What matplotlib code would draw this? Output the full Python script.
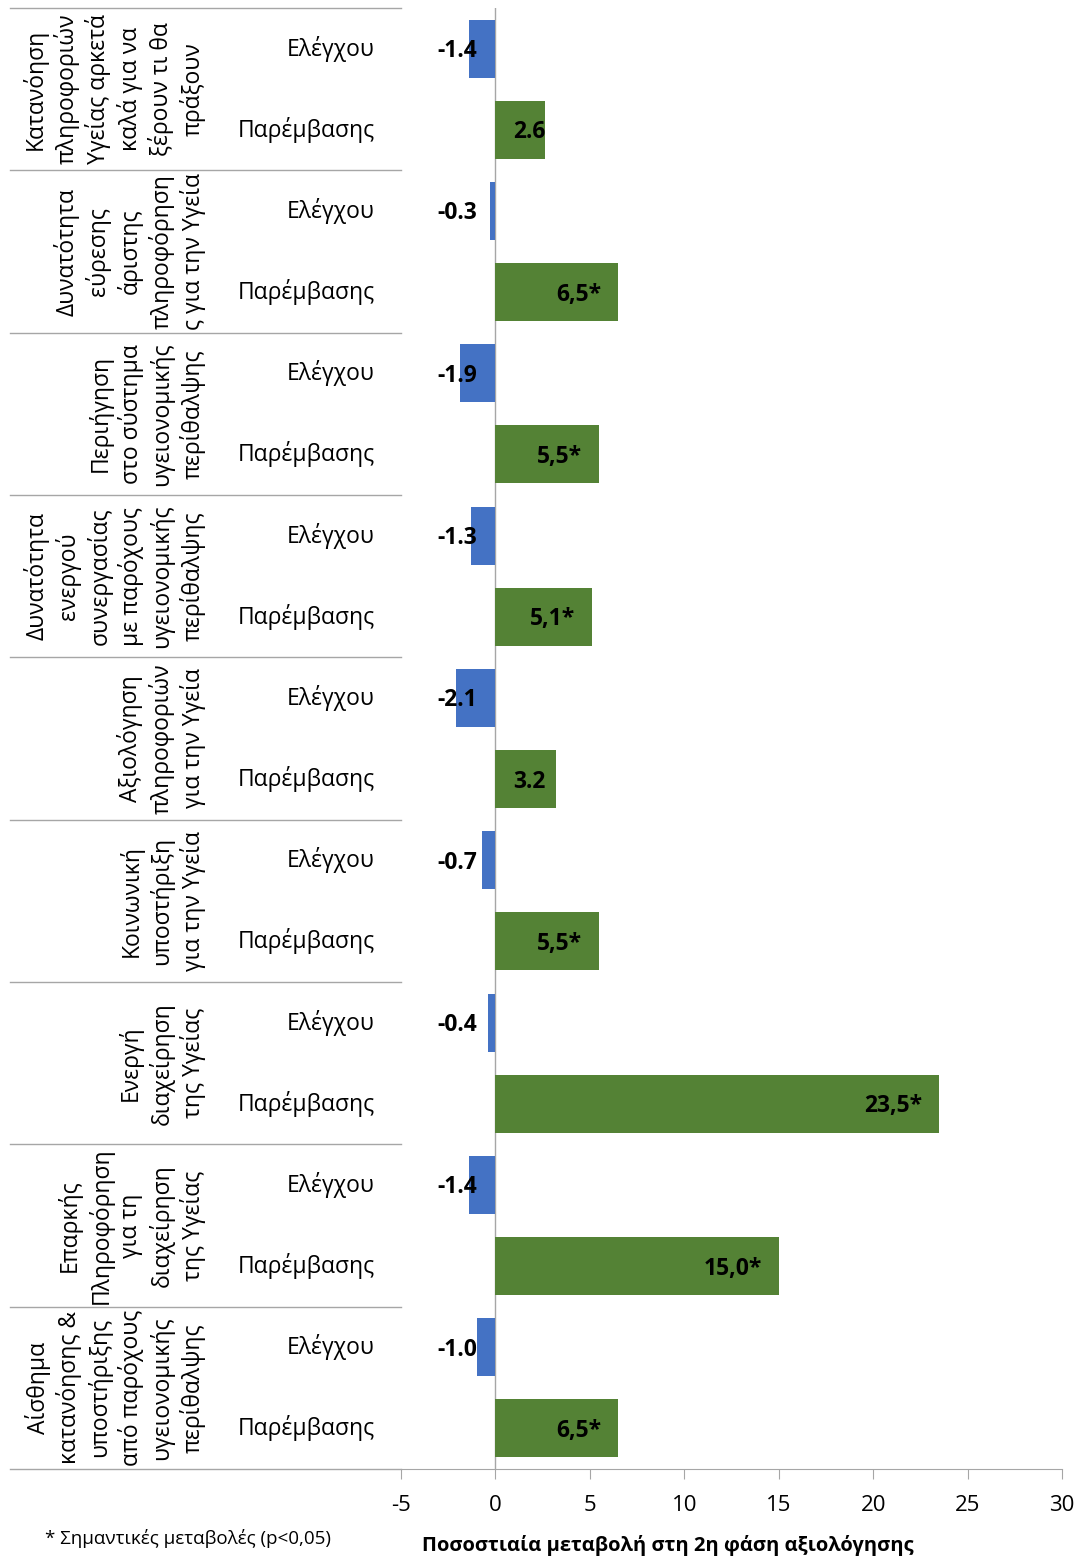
import matplotlib.pyplot as plt
import matplotlib.transforms as mtransforms

plt.rcParams['font.family'] = ['Open Sans', 'DejaVu Sans']

# Categories (top to bottom), subgroups and values
categories = [
    "Κατανόηση\nπληροφοριών\nΥγείας αρκετά\nκαλά για να\nξέρουν τι θα\nπράξουν",
    "Δυνατότητα\nεύρεσης\nάριστης\nπληροφόρηση\nς για την Υγεία",
    "Περιήγηση\nστο σύστημα\nυγειονομικής\nπερίθαλψης",
    "Δυνατότητα\nενεργού\nσυνεργασίας\nμε παρόχους\nυγειονομικής\nπερίθαλψης",
    "Αξιολόγηση\nπληροφοριών\nγια την Υγεία",
    "Κοινωνική\nυποστήριξη\nγια την Υγεία",
    "Ενεργή\nδιαχείρηση\nτης Υγείας",
    "Επαρκής\nΠληροφόρηση\nγια τη\nδιαχείρηση\nτης Υγείας",
    "Αίσθημα\nκατανόησης &\nυποστήριξης\nαπό παρόχους\nυγειονομικής\nπερίθαλψης",
]
groups = ["Ελέγχου", "Παρέμβασης"]
control = [-1.4, -0.3, -1.9, -1.3, -2.1, -0.7, -0.4, -1.4, -1.0]
intervention = [2.6, 6.5, 5.5, 5.1, 3.2, 5.5, 23.5, 15.0, 6.5]
control_labels = ["-1.4", "-0.3", "-1.9", "-1.3", "-2.1", "-0.7", "-0.4", "-1.4", "-1.0"]
intervention_labels = ["2.6", "6,5*", "5,5*", "5,1*", "3.2", "5,5*", "23,5*", "15,0*", "6,5*"]
xticks = [-5, 0, 5, 10, 15, 20, 25, 30]

blue = '#4472C4'
green = '#548235'
grid_col = '#A6A6A6'

W, H = 1081, 1560
fig = plt.figure(figsize=(W / 100, H / 100), dpi=100)
ax = fig.add_axes([401 / W, 1 - 1469 / H, (1062 - 401) / W, (1469 - 8) / H])

n = len(categories)
y_ctrl = [2 * i + 0.5 for i in range(n)]
y_int = [2 * i + 1.5 for i in range(n)]

ax.barh(y_ctrl, control, height=0.715, color=blue, zorder=2)
ax.barh(y_int, intervention, height=0.715, color=green, zorder=2)

ax.set_xlim(-5, 30)
ax.set_ylim(2 * n, 0)
ax.axvline(0, color=grid_col, lw=1, zorder=1)

for s in ['top', 'right', 'left']:
    ax.spines[s].set_visible(False)
ax.spines['bottom'].set_color(grid_col)
ax.set_yticks([])
ax.set_xticks(xticks)
ax.set_xticklabels([str(t) for t in xticks], fontsize=16)
ax.tick_params(axis='x', direction='out', length=7, color=grid_col, pad=12)

# value labels
for y, txt in zip(y_ctrl, control_labels):
    ax.text(-2.0, y + 0.03, txt, ha='center', va='center', fontsize=16.5,
            fontweight='bold', zorder=3)
for y, v, txt in zip(y_int, intervention, intervention_labels):
    ax.text(max(v - 0.9, 2.65), y + 0.03, txt, ha='right', va='center', fontsize=16.5,
            fontweight='bold', zorder=3)

# category axis: separators, group and category labels
trans = mtransforms.blended_transform_factory(fig.transFigure, ax.transData)
for i in range(n + 1):
    ax.plot([10 / W, 401 / W], [2 * i, 2 * i], transform=trans, color=grid_col,
            lw=1, clip_on=False)
for y_pair in zip(y_ctrl, y_int):
    for y, g in zip(y_pair, groups):
        ax.text(375 / W, y, g, transform=trans, ha='right', va='center', fontsize=16.5)
for i, c in enumerate(categories):
    ax.text(206 / W, 2 * i + 1, c, transform=trans, rotation=90, ha='right',
            va='center', multialignment='center', fontsize=16.5, linespacing=1.28)

fig.text(668 / W, 1 - 1546 / H, "Ποσοστιαία μεταβολή στη 2η φάση αξιολόγησης",
         ha='center', va='center', fontsize=14.5, fontweight='bold')
fig.text(45 / W, 1 - 1538 / H, "* Σημαντικές μεταβολές (p<0,05)",
         ha='left', va='center', fontsize=13.5)

fig.savefig('out.png', dpi=100)
